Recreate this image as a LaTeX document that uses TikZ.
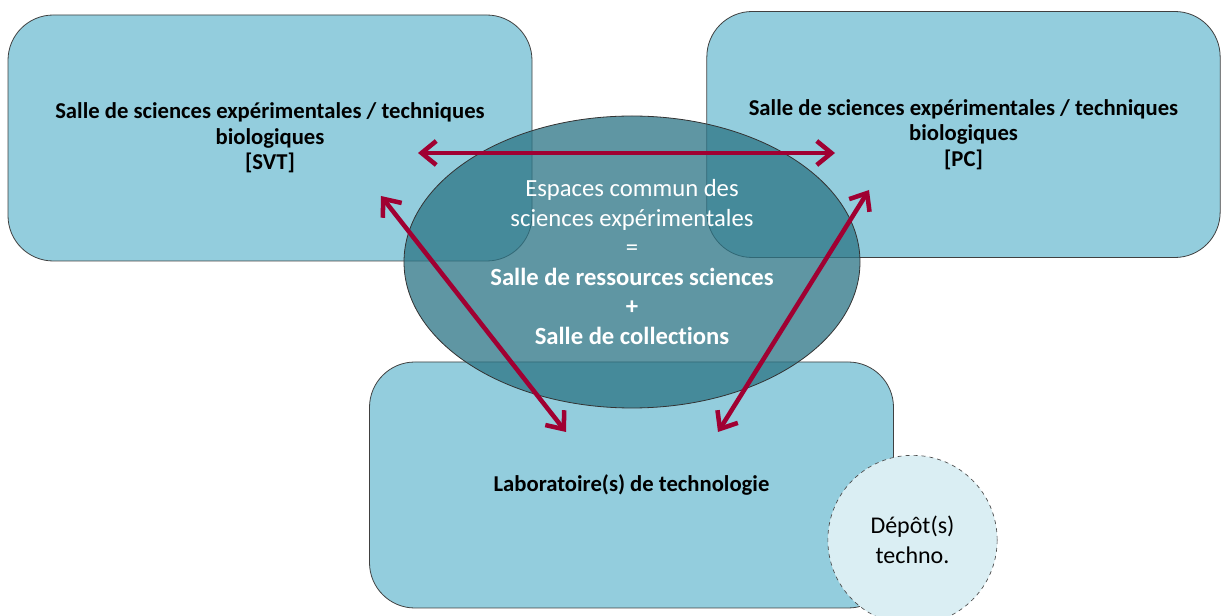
\documentclass[tikz,border=0pt]{standalone}
\usepackage{fontspec}
\setmainfont{Carlito}[Ligatures=CommonOff]
\usetikzlibrary{shapes.geometric,arrows.meta}
\definecolor{boite}{RGB}{147,205,221}
\definecolor{commun}{RGB}{45,117,134}
\definecolor{depotfond}{RGB}{218,238,243}
\definecolor{fleche}{RGB}{160,0,50}

\begin{document}
\begin{tikzpicture}[x=0.75pt,y=-0.75pt,
  salle/.style={draw=black!75,fill=boite,rounded corners=34pt,line width=0.6pt,
    minimum width=393pt,minimum height=184.5pt,align=center,
    font=\bfseries\fontsize{17}{19}\selectfont},
  lien/.style={fleche,line width=3.4pt,{Straight Barb[length=11pt,width=18pt]}-{Straight Barb[length=11pt,width=18pt]}}]
 \useasboundingbox (0,0) rectangle (1222,616);
 \node[salle] (svt) at (270,138) {Salle de sciences expérimentales / techniques\\biologiques\\{[SVT]}}; %SVT
 \node[salle,minimum width=385pt] (pc) at (963.5,134.5) {Salle de sciences expérimentales / techniques\\biologiques\\{[PC]}}; %PC
 \node[salle] (techno) at (631.5,485) {Laboratoire(s) de technologie}; %techno

 \node[ellipse,draw=black!80,line width=0.6pt,fill=commun,fill opacity=0.76,text opacity=1,
   text=white,minimum width=342pt,minimum height=219pt,inner sep=0pt,align=center,
   font=\fontsize{18.5}{22.2}\selectfont] (espace) at (632,262)
   {Espaces commun des\\sciences expérimentales\\=\\\textbf{Salle de ressources sciences}\\\textbf{+}\\\textbf{Salle de collections}}; %espace commun

 \node[circle,draw=black!70,dashed,line width=0.5pt,fill=depotfond,minimum size=127pt,
   align=center,font=\fontsize{18}{22.5}\selectfont] (depot) at (912.5,540) {Dépôt(s)\\techno.}; %depot

 \coordinate (h1) at (418,153);
 \coordinate (h2) at (835,153);
 \coordinate (g1) at (381,196);
 \coordinate (g2) at (566,432);
 \coordinate (d1) at (869,190);
 \coordinate (d2) at (718,432);
 \draw[lien] (h1)--(h2); %SVT-PC
 \draw[lien] (g1)--(g2); %SVT-techno
 \draw[lien] (d1)--(d2); %PC-techno
\end{tikzpicture}
\end{document}
